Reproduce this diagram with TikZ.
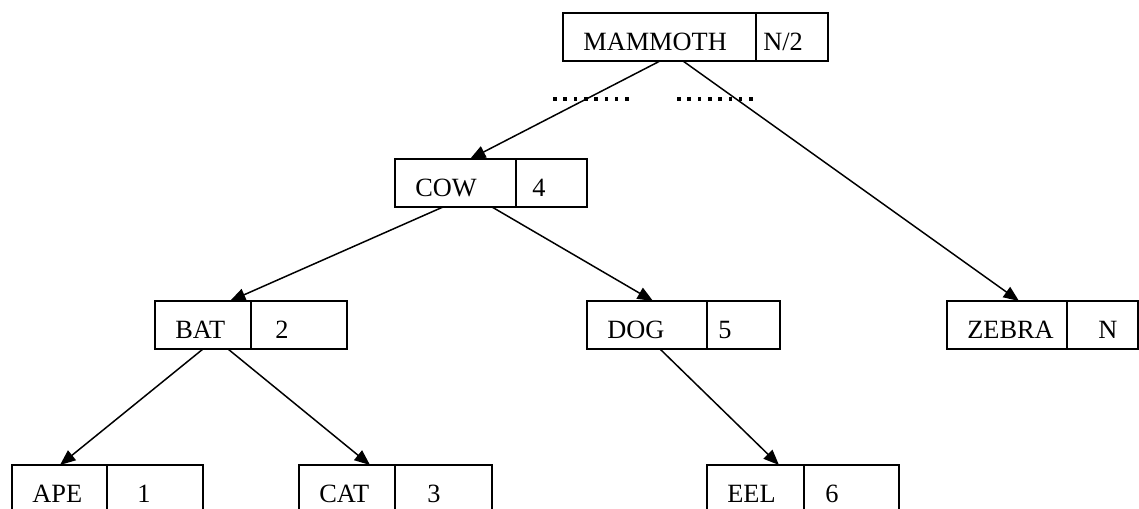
\documentclass[tikz,border=0pt]{standalone}
\usepackage{fontspec}
\setmainfont{Liberation Serif}
\usepackage{tikz}
\usetikzlibrary{
    calc,
    arrows.meta
}
\tikzset{
  cell/.style={draw,anchor=north west,minimum height=0.96cm,inner sep=0pt,outer sep=0pt,line width=1.1pt},
  txt/.style={anchor=base west,inner sep=0pt,font=\fontsize{15}{18}\selectfont},
  link/.style={line width=0.85pt,-{Triangle[length=0.31cm,width=0.25cm]}}
}
\newcommand{\Record}[8]{%
  \node[cell,minimum width=#4*0.02cm] (#1) at (#2,#3) {};
  \node[cell,minimum width=#5*0.02cm] (#1val) at (#1.north east) {};
  \node[txt] (#1key) at ($(#1.north west)+(20,37)$) {#6};
  \node[txt] (#1num) at ($(#1val.north west)+(#7,37)$) {#8};
}
\newcommand{\DotRow}[2]{%
  \foreach \i in {0,...,7}
    \fill ($(#1,#2)+(10.3*\i,0)$) rectangle +(3.6,3.6);
}

\begin{document}
\begin{tikzpicture}[x=0.02cm,y=-0.02cm]
\clip (0,0) rectangle (1139,508);
\Record{mammoth}{563}{13}{193}{72}{MAMMOTH}{7}{N/2}
\Record{cow}{395}{159}{121}{71}{COW}{16}{4}
\Record{bat}{155}{301}{96}{96}{BAT}{24}{2}
\Record{dog}{587}{301}{120}{73}{DOG}{11}{5}
\Record{zebra}{947}{301}{120}{71}{ZEBRA}{31}{N}
\Record{ape}{12}{465}{95}{96}{APE}{30}{1}
\Record{cat}{299}{465}{96}{97}{CAT}{32}{3}
\Record{eel}{707}{465}{97}{95}{EEL}{21}{6}
\DotRow{553}{97.2}
\DotRow{677}{97.2}
\draw[link] ($(mammoth.south west)+(97,0)$) -- ($(cow.north west)+(75,0)$);
\draw[link] ($(mammoth.south west)+(120,0)$) -- ($(zebra.north west)+(72,0)$);
\draw[link] ($(cow.south west)+(48,0)$) -- ($(bat.north west)+(75,0)$);
\draw[link] ($(cow.south west)+(97,0)$) -- ($(dog.north west)+(66,0)$);
\draw[link] ($(bat.south west)+(48,0)$) -- ($(ape.north west)+(48,0)$);
\draw[link] ($(bat.south west)+(73,0)$) -- ($(cat.north west)+(71,0)$);
\draw[link] ($(dog.south west)+(73,0)$) -- ($(eel.north west)+(72,0)$);
\end{tikzpicture}
\end{document}
